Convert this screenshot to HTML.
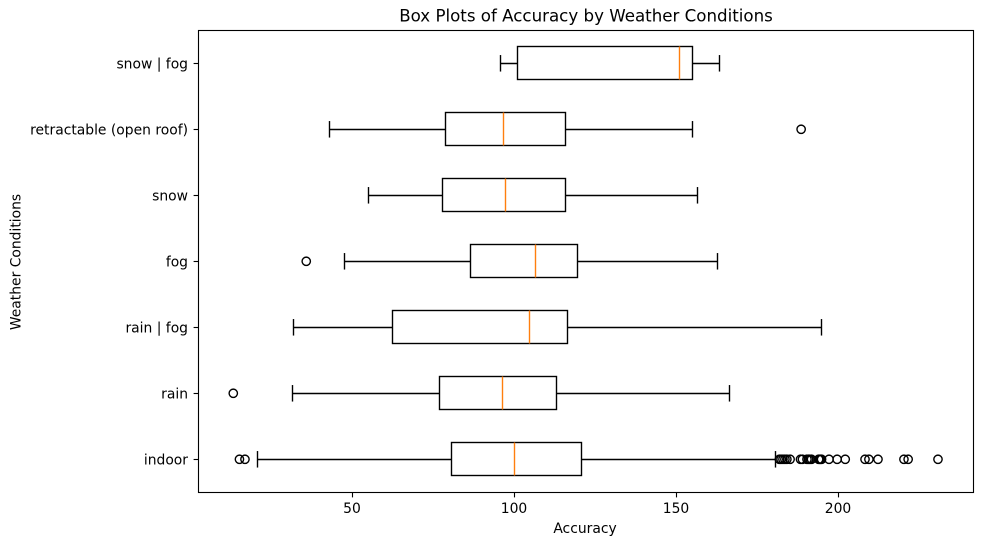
<!DOCTYPE html>
<html lang="en">
<head>
<meta charset="utf-8">
<title>Box Plots of Accuracy by Weather Conditions</title>
<style>
html,body{margin:0;padding:0;background:#fff;width:982px;height:545px;overflow:hidden}
svg{display:block}
text{font-family:"DejaVu Sans","Liberation Sans",sans-serif;fill:#000}
</style>
</head>
<body>
<svg id="chart" width="982" height="545" viewBox="0 0 982 545" xmlns="http://www.w3.org/2000/svg">
<rect x="0" y="0" width="982" height="545" fill="#fff"/>
<text x="586" y="21.5" font-size="16.67" text-anchor="middle">Box Plots of Accuracy by Weather Conditions</text>
<text x="585" y="533" font-size="13.89" text-anchor="middle">Accuracy</text>
<text x="0" y="0" font-size="13.89" text-anchor="middle" transform="translate(20.5 262) rotate(-90)">Weather Conditions</text>
<g id="marks"></g>
<rect x="198.5" y="30.5" width="775" height="462" fill="none" stroke="#000" stroke-width="1.11"/>
<g id="axes"></g>
</svg>
<script>
const categories = ["indoor", "rain", "rain | fog", "fog", "snow", "retractable (open roof)", "snow | fog"];
const whiskerLow = [20.7, 31.5, 31.8, 47.5, 54.9, 43.0, 95.6];
const quartile1 = [80.6, 76.9, 62.3, 86.5, 77.8, 78.7, 100.9];
const medians = [100.0, 96.3, 104.6, 106.4, 97.2, 96.6, 150.8];
const quartile3 = [120.7, 113.0, 116.3, 119.4, 115.8, 115.8, 155.0];
const whiskerHigh = [180.5, 166.2, 194.7, 162.5, 156.4, 155.0, 163.3];
const outliersIndoor = [15.2, 16.9, 181.7, 182.2, 182.8, 183.4, 184.0, 185, 188.2, 188.8, 190.2, 190.7, 191.1, 191.6, 193.8, 194.1, 194.4, 194.7, 197, 199.5, 202, 208.1, 209.3, 212.1, 220.1, 221.4, 230.6];
const outliersRain = [13.3];
const outliersRainFog = [];
const outliersFog = [35.8];
const outliersSnow = [];
const outliersRetractable = [188.4];
const outliersSnowFog = [];
const outliers = [outliersIndoor, outliersRain, outliersRainFog, outliersFog, outliersSnow, outliersRetractable, outliersSnowFog];
const xTickValues = [50, 100, 150, 200];

const NS = "http://www.w3.org/2000/svg";
const marks = document.getElementById("marks");
const axes = document.getElementById("axes");
const LINE = 1.39;

function xScale(v) { return 352.3 + (v - 50) * 3.243; }
function yScale(i) { return 459.3 - i * 66; }
function snap(p) { return Math.floor(p) + 0.5; }

function line(parent, x1, y1, x2, y2, color, width) {
  const el = document.createElementNS(NS, "line");
  el.setAttribute("x1", x1);
  el.setAttribute("y1", y1);
  el.setAttribute("x2", x2);
  el.setAttribute("y2", y2);
  el.setAttribute("stroke", color);
  el.setAttribute("stroke-width", width);
  parent.appendChild(el);
  return el;
}

categories.forEach(function (cat, i) {
  const slug = cat.replace(/[^a-z]+/g, "-").replace(/-$/, "");
  const y = yScale(i);
  const g = document.createElementNS(NS, "g");
  
  
  marks.appendChild(g);

  const wl = snap(xScale(whiskerLow[i]));
  const wh = snap(xScale(whiskerHigh[i]));
  const q1 = snap(xScale(quartile1[i]));
  const q3 = snap(xScale(quartile3[i]));
  const med = snap(xScale(medians[i]));
  const cy = snap(y);

  const wLeft = line(g, wl, cy, q1, cy, "#000", LINE);
  
  
  const wRight = line(g, q3, cy, wh, cy, "#000", LINE);
  
  
  const capLow = line(g, wl, y - 8.25, wl, y + 8.25, "#000", LINE);
  
  
  const capHigh = line(g, wh, y - 8.25, wh, y + 8.25, "#000", LINE);
  
  

  const top = snap(y - 16.5);
  const bottom = snap(y + 16.5);
  const box = document.createElementNS(NS, "rect");
  box.setAttribute("x", q1);
  box.setAttribute("y", top);
  box.setAttribute("width", q3 - q1);
  box.setAttribute("height", bottom - top);
  box.setAttribute("fill", "none");
  box.setAttribute("stroke", "#000");
  box.setAttribute("stroke-width", LINE);
  
  
  g.appendChild(box);

  const medLine = line(g, med, top, med, bottom, "#ff7f0e", LINE);
  
  

  outliers[i].forEach(function (v) {
    const c = document.createElementNS(NS, "circle");
    c.setAttribute("cx", xScale(v));
    c.setAttribute("cy", y);
    c.setAttribute("r", 4.17);
    c.setAttribute("fill", "none");
    c.setAttribute("stroke", "#000");
    c.setAttribute("stroke-width", LINE);
    
    
    g.appendChild(c);
  });

  const yTick = line(axes, 193.6, cy, 198.5, cy, "#000", 1.11);
  
  
  const yLabel = document.createElementNS(NS, "text");
  yLabel.setAttribute("x", 188);
  yLabel.setAttribute("y", y + 5.3);
  yLabel.setAttribute("font-size", 13.89);
  yLabel.setAttribute("text-anchor", "end");
  
  
  yLabel.textContent = cat;
  axes.appendChild(yLabel);
});

xTickValues.forEach(function (v) {
  const x = snap(xScale(v));
  const xTick = line(axes, x, 492.5, x, 497.4, "#000", 1.11);
  
  
  const xLabel = document.createElementNS(NS, "text");
  xLabel.setAttribute("x", x - 0.5);
  xLabel.setAttribute("y", 513);
  xLabel.setAttribute("font-size", 13.89);
  xLabel.setAttribute("text-anchor", "middle");
  
  
  xLabel.textContent = String(v);
  axes.appendChild(xLabel);
});
</script>
</body>
</html>
